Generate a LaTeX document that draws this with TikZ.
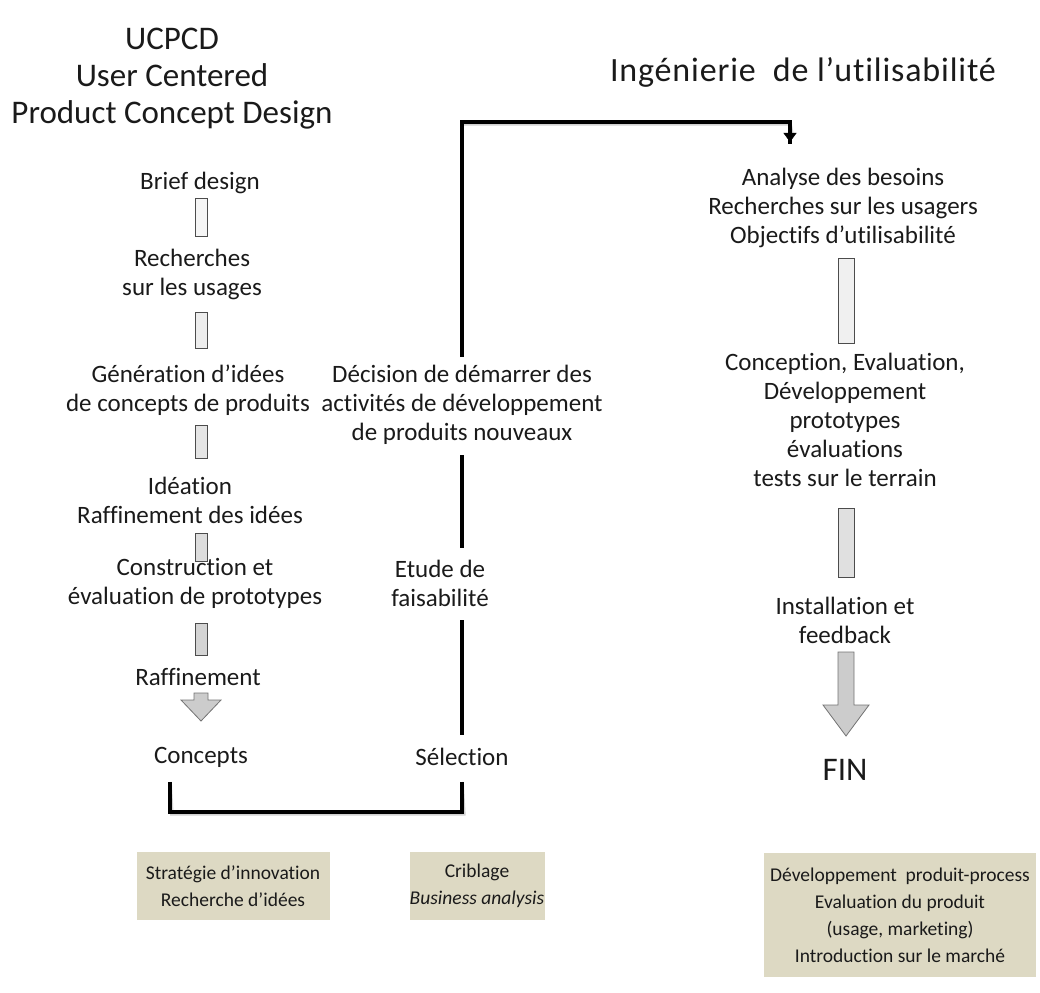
\documentclass[tikz,border=0pt]{standalone}
\usepackage{fontspec}
\setmainfont[Ligatures=NoCommon]{Carlito}
\usetikzlibrary{arrows.meta}
\definecolor{boxtan}{HTML}{DDD9C3}
\definecolor{txtc}{HTML}{1A1A1A}
\begin{document}
\begin{tikzpicture}[x=1pt,y=-1pt,
  txt/.style={align=center, font=\fontsize{25}{29}\selectfont, text=txtc, inner sep=0pt},
  ttl/.style={align=center, font=\fontsize{33}{37}\selectfont, text=txtc, inner sep=0pt},
  shaftbox/.style={draw=black!70, line width=0.8pt},
  conn/.style={line width=3.6pt, black},
  connshadow/.style={line width=3.6pt, black, opacity=0.18, shift={(1.8,1.8)}},
  tanbox/.style={fill=boxtan, align=center, font=\fontsize{19.5}{27}\selectfont, text=txtc, inner sep=0pt}
]
\useasboundingbox (0,0) rectangle (1040,992);

% ---------- left column ----------
\node[ttl] (ucpcd) at (172,79) {UCPCD\\User Centered\\Product Concept Design};
\node[txt] (brief) at (200,183) {Brief design};
\node[txt] (rech) at (192,274) {Recherches\\sur les usages};
\node[txt] (gen) at (188,390) {Génération d'idées\\de concepts de produits};
\node[txt] (idea) at (190,500) {Idéation\\Raffinement des idées};
\node[txt] (constr) at (195,583) {Construction et\\évaluation de prototypes};
\node[txt] (raff) at (198,677) {Raffinement};
\node[txt] (concepts) at (201,757) {Concepts};

\filldraw[shaftbox, fill=gray!8]  (195,198) rectangle (207,236);
\filldraw[shaftbox, fill=gray!14] (195,312) rectangle (207,348);
\filldraw[shaftbox, fill=gray!20] (195,425) rectangle (207,458);
\filldraw[shaftbox, fill=gray!27] (195,533) rectangle (207,561);
\filldraw[shaftbox, fill=gray!34] (195,623) rectangle (207,655);
\filldraw[draw=black!55, line width=0.8pt, fill=gray!40]
  (194,693) -- (208,693) -- (208,700) -- (221,700) -- (201,721) -- (181,700) -- (194,700) -- cycle;

% ---------- middle column ----------
\node[txt] (dec) at (462,405) {Décision de démarrer des\\activités de développement\\de produits nouveaux};
\node[txt] (etude) at (440,583) {Etude de\\faisabilité};
\node[txt] (sel) at (462,757) {Sélection};

% ---------- right column ----------
\node[ttl] (ing) at (803,72) {\fontsize{34}{37}\selectfont\addfontfeature{LetterSpace=2.5}Ingénierie\ \ de\ l'utilisabilité};
\node[txt] (analyse) at (843,208) {Analyse des besoins\\Recherches sur les usagers\\Objectifs d'utilisabilité};
\node[txt] (concep) at (845,420) {Conception, Evaluation,\\Développement\\prototypes\\évaluations\\tests sur le terrain};
\node[txt] (install) at (845,620) {Installation et\\feedback};
\node[ttl] (fin) at (845,770) {FIN};

\filldraw[shaftbox, fill=gray!12] (838,258) rectangle (854,343);
\filldraw[shaftbox, fill=gray!24] (838,508) rectangle (854,577);
\filldraw[draw=black!55, line width=0.8pt, fill=gray!40]
  (838,652) -- (854,652) -- (854,705) -- (869,705) -- (846,736) -- (823,705) -- (838,705) -- cycle;

% ---------- connectors ----------
\coordinate (m1) at (462,355);
\coordinate (m2) at (462,455);
\coordinate (m3) at (462,548);
\coordinate (m4) at (462,620);
\coordinate (m5) at (462,735);
\coordinate (m6) at (462,782);
\coordinate (l1) at (170,782);
\coordinate (tgt) at (790,142);

\draw[connshadow, line cap=rect] (m1) |- (tgt |- 0,122) -- (790,132);
\draw[connshadow] (m2) -- (m3);
\draw[connshadow] (m4) -- (m5);
\draw[connshadow, line join=miter] (l1) -- (170,812) -- (462,812) -- (m6);

\draw[conn, line cap=rect] (m1) |- (tgt |- 0,122) -- (tgt) ;
\draw[black, -{Triangle[width=13pt,length=9pt]}, line width=0.5pt] (790,130) -- (tgt);
\draw[conn] (m2) -- (m3);
\draw[conn] (m4) -- (m5);
\draw[conn, line join=miter] (l1) -- (170,812) -- (462,812) -- (m6);

% ---------- bottom boxes ----------
\node[tanbox, minimum width=193pt, minimum height=68pt] (b1) at (233,886) {Stratégie d'innovation\\Recherche d'idées};
\node[tanbox, minimum width=135pt, minimum height=68pt] (b2) at (477,886) {Criblage\\\textit{Business analysis}};
\node[tanbox, minimum width=272pt, minimum height=124pt] (b3) at (900,915) {Développement\ \ produit-process\\Evaluation du produit\\(usage, marketing)\\Introduction sur le marché};
\end{tikzpicture}
\end{document}
